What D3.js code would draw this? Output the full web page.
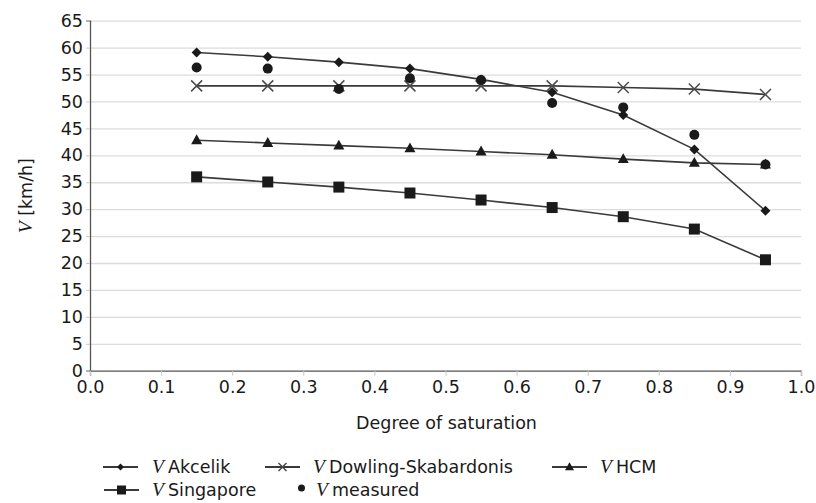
<!DOCTYPE html>
<html>
<head>
<meta charset="utf-8">
<script src="https://cdn.jsdelivr.net/npm/d3@7/dist/d3.min.js"></script>
<style>
  html, body { margin: 0; padding: 0; background: #fff; }
  svg { display: block; }
  text { font-family: "DejaVu Sans", sans-serif; fill: #1a1a1a; }
  .vi { font-family: "Liberation Serif", serif; font-style: italic; }
</style>
</head>
<body>
<svg id="chart" width="816" height="503"></svg>
<script>
// ---- data ----
const saturation = [0.15, 0.25, 0.35, 0.45, 0.55, 0.65, 0.75, 0.85, 0.95];
const akcelik    = [59.1, 58.3, 57.3, 56.1, 54.1, 51.7, 47.5, 41.1, 29.7];
const dowling    = [52.9, 52.9, 52.9, 52.9, 52.9, 52.9, 52.6, 52.3, 51.3];
const hcm        = [42.8, 42.3, 41.8, 41.3, 40.7, 40.1, 39.3, 38.6, 38.3];
const singapore  = [36.0, 35.05, 34.1, 33.0, 31.7, 30.3, 28.6, 26.3, 20.6];
const measured   = [56.3, 56.1, 52.3, 54.3, 54.0, 49.7, 48.9, 43.8, 38.3];
const xTicks = [0.0, 0.1, 0.2, 0.3, 0.4, 0.5, 0.6, 0.7, 0.8, 0.9, 1.0];
const yTicks = [0, 5, 10, 15, 20, 25, 30, 35, 40, 45, 50, 55, 60, 65];
const seriesNames = ["Akcelik", "Dowling-Skabardonis", "HCM", "Singapore", "measured"];
const xTitle = "Degree of saturation";

// ---- layout ----
const svg = d3.select("#chart");
const mLeft = 90, mRight = 801, mTop = 20.7, mBottom = 370.7;
const x = d3.scaleLinear().domain([0, 1]).range([mLeft, mRight]);
const y = d3.scaleLinear().domain([0, 65]).range([mBottom, mTop]);
const FS = 17.5, VFS = 19.5;

// gridlines
svg.append("g")
  .attr("transform", `translate(${mLeft},0)`)
  .call(d3.axisLeft(y).tickValues(yTicks.filter(v => v > 0)).tickSize(-(mRight - mLeft)).tickFormat(""))
  .call(g => g.select(".domain").remove())
  .call(g => g.selectAll("line").attr("stroke", "#dcdcdc").attr("stroke-width", 1.3));

// y axis
svg.append("g")
  .attr("transform", `translate(${mLeft},0)`)
  .call(d3.axisLeft(y).tickValues(yTicks).tickSize(4).tickPadding(3).tickFormat(d3.format("d")))
  .call(g => g.select(".domain").attr("stroke", "#555").attr("stroke-width", 1.3))
  .call(g => g.selectAll(".tick line").attr("stroke", "#c8c8c8"))
  .call(g => g.selectAll("text").attr("font-size", FS).attr("font-family", "DejaVu Sans").attr("fill", "#1a1a1a"));

// x axis
svg.append("g")
  .attr("transform", `translate(0,${mBottom})`)
  .call(d3.axisBottom(x).tickValues(xTicks).tickSize(5).tickPadding(5).tickFormat(d3.format(".1f")))
  .call(g => g.select(".domain").attr("stroke", "#555").attr("stroke-width", 1.3))
  .call(g => g.selectAll(".tick line").attr("stroke", "#c8c8c8"))
  .call(g => g.selectAll("text").attr("font-size", FS).attr("font-family", "DejaVu Sans").attr("fill", "#1a1a1a"));

// axis titles
svg.append("text")
  .attr("x", (mLeft + mRight) / 2 + 1).attr("y", 429)
  .attr("text-anchor", "middle").attr("font-size", FS)
  .text(xTitle);

const yl = svg.append("text")
  .attr("transform", `translate(32,${(mTop + mBottom) / 2}) rotate(-90)`)
  .attr("text-anchor", "middle").attr("font-size", FS);
yl.append("tspan").attr("class", "vi").attr("font-size", VFS).text("V");
yl.append("tspan").text(" [km/h]");

// ---- marker shapes ----
function markerPath(type, s) {
  if (type === "diamond") return d3.symbol(d3.symbolSquare, s * s / 2)();
  if (type === "times") { const r = s / 2; return `M${-r},${-r}L${r},${r}M${-r},${r}L${r},${-r}`; }
  if (type === "triangle") { const h = s * 0.9, w = s / 2; return `M0,${-h * 0.6}L${w},${h * 0.4}L${-w},${h * 0.4}Z`; }
  if (type === "square") return d3.symbol(d3.symbolSquare, s * s)();
  if (type === "circle") return d3.symbol(d3.symbolCircle, Math.PI * s * s / 4)();
}
function drawMarker(g, type, s, cx, cy) {
  const p = g.append("path")
    .attr("d", markerPath(type, s))
    .attr("transform", `translate(${cx},${cy})` + (type === "diamond" ? " rotate(45)" : ""));
  if (type === "times") p.attr("fill", "none").attr("stroke", "#4a4a4a").attr("stroke-width", 1.5);
  else p.attr("fill", "#1a1a1a");
}

const series = [
  { name: seriesNames[0], values: akcelik,   type: "diamond",  size: 10, line: true },
  { name: seriesNames[1], values: dowling,   type: "times",    size: 11, line: true },
  { name: seriesNames[2], values: hcm,       type: "triangle", size: 11, line: true },
  { name: seriesNames[3], values: singapore, type: "square",   size: 11, line: true },
  { name: seriesNames[4], values: measured,  type: "circle",   size: 10, line: false }
];

const line = d3.line().x(d => x(d[0])).y(d => y(d[1]));
const plot = svg.append("g");
series.filter(s => s.line).forEach(s => {
  plot.append("path")
    .datum(saturation.map((v, i) => [v, s.values[i]]))
    .attr("d", line)
    .attr("fill", "none")
    .attr("stroke", "#3a3a3a")
    .attr("stroke-width", 1.6);
});
series.forEach(s => {
  const g = plot.append("g");
  saturation.forEach((v, i) => drawMarker(g, s.type, s.size, x(v), y(s.values[i])));
});

// ---- legend ----
const legendPos = [
  { lx: 103, ly: 467, tx: 152 },
  { lx: 265, ly: 467, tx: 313 },
  { lx: 552, ly: 467, tx: 600 },
  { lx: 104, ly: 490, tx: 152 },
  { lx: 284, ly: 490, tx: 316 }
];
const legendSize = [7, 8, 9, 9, 7];
const lg = svg.append("g");
series.forEach((s, i) => {
  const p = legendPos[i];
  if (s.line) {
    lg.append("line").attr("x1", p.lx).attr("x2", p.lx + 35).attr("y1", p.ly).attr("y2", p.ly)
      .attr("stroke", "#3a3a3a").attr("stroke-width", 1.8);
  }
  drawMarker(lg, s.type, legendSize[i], p.lx + 17.5, p.ly - (s.line ? 0 : 2));
  const t = lg.append("text").attr("x", p.tx).attr("y", p.ly + 6).attr("font-size", FS);
  t.append("tspan").attr("class", "vi").attr("font-size", VFS).text("V");
  t.append("tspan").attr("dx", 4).text(s.name);
});
</script>
</body>
</html>
